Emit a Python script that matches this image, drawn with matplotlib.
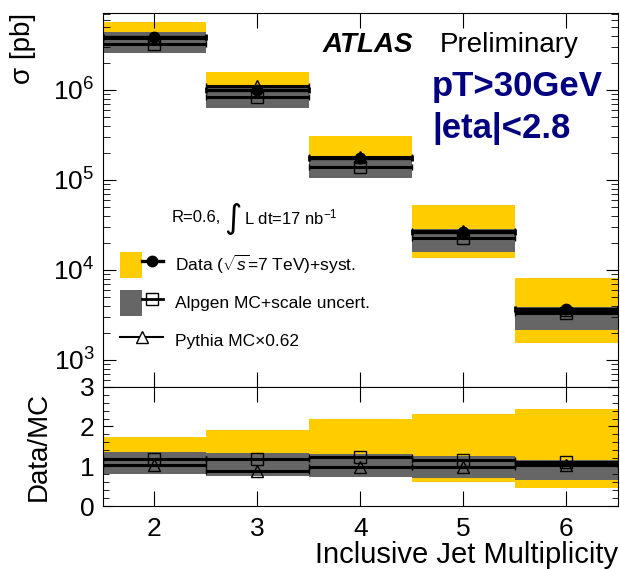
import matplotlib
matplotlib.use('Agg')
import matplotlib.pyplot as plt
import numpy as np
from matplotlib.patches import Patch
from matplotlib.lines import Line2D
from matplotlib.legend_handler import HandlerTuple
from matplotlib.ticker import MultipleLocator, NullFormatter, FixedLocator

plt.rcParams['font.family'] = ['Liberation Sans', 'DejaVu Sans']
plt.rcParams['mathtext.fontset'] = 'custom'
plt.rcParams['mathtext.rm'] = 'Liberation Sans'
plt.rcParams['mathtext.it'] = 'Liberation Sans:italic'
plt.rcParams['mathtext.bf'] = 'Liberation Sans:bold'

# inclusive jet multiplicity bins
njets = [2, 3, 4, 5, 6]

# data and systematic band [pb]
data = [3.88e6, 1.00e6, 1.75e5, 2.64e4, 3.69e3]
data_up = [5.65e6, 1.60e6, 3.10e5, 5.27e4, 8.10e3]
data_dn = [3.10e6, 7.90e5, 1.30e5, 1.35e4, 1.53e3]

# alpgen with scale uncertainty
alpgen = [3.25e6, 8.40e5, 1.41e5, 2.27e4, 3.33e3]
alpgen_up = [4.42e6, 1.12e6, 1.85e5, 2.86e4, 3.86e3]
alpgen_dn = [2.60e6, 6.30e5, 1.04e5, 1.59e4, 2.16e3]

# pythia x 0.62
pythia = [3.77e6, 1.12e6, 1.80e5, 2.72e4, 3.58e3]

amarillo = '#ffcc00'
gris = '#666666'

x = np.array(njets)
d = np.array(data)
alp = np.array(alpgen)
py = np.array(pythia)

fig = plt.figure(figsize=(6.2, 5.69), dpi=100)
ax = fig.add_axes([0.166, 0.3204, 0.8306, 0.6568])
rax = fig.add_axes([0.166, 0.1107, 0.8306, 0.2097], sharex=ax)

# panel de arriba
ax.bar(x, np.array(data_up) - np.array(data_dn), bottom=data_dn, width=1.0, color=amarillo, lw=0)
ax.bar(x, np.array(alpgen_up) - np.array(alpgen_dn), bottom=alpgen_dn, width=1.0, color=gris, lw=0)
ax.errorbar(x, py, xerr=0.5, fmt='^', ms=8, mfc='none', mec='black', mew=1.0,
            color='black', lw=2.2, capsize=2, capthick=2)
ax.errorbar(x, d, xerr=0.5, fmt='o', ms=7.5, mfc='black', mec='black',
            color='black', lw=2.4, capsize=2, capthick=2)
ax.errorbar(x, alp, xerr=0.5, fmt='s', ms=8, mfc='none', mec='black', mew=1.0,
            color='black', lw=2.2, capsize=2, capthick=2)

ax.set_yscale('log')
ax.set_ylim(505, 7.17e6)
ax.set_xlim(1.5, 6.5)
ax.xaxis.set_major_locator(FixedLocator(njets))
ax.tick_params(which='both', direction='in', top=True, right=True)
ax.tick_params(axis='x', which='major', length=11, labelbottom=False)
ax.tick_params(axis='y', which='major', length=9, labelsize=19, pad=6)
ax.tick_params(axis='y', which='minor', length=5)
ax.yaxis.set_minor_formatter(NullFormatter())
ax.set_ylabel('σ [pb]', loc='top', fontsize=20)
ax.yaxis.set_label_coords(-0.13, 1.0)

ax.text(0.427, 0.914, 'ATLAS', transform=ax.transAxes, fontsize=20,
        fontweight='bold', fontstyle='italic', va='center')
ax.text(0.654, 0.914, 'Preliminary', transform=ax.transAxes, fontsize=20, va='center')
ax.text(0.639, 0.802, 'pT>30GeV', transform=ax.transAxes, fontsize=25,
        fontweight='bold', color='#000080', va='center')
ax.text(0.639, 0.692, '|eta|<2.8', transform=ax.transAxes, fontsize=25,
        fontweight='bold', color='#000080', va='center')
# R=0.6, integral L dt
ax.text(0.134, 0.454, 'R=0.6,', transform=ax.transAxes, fontsize=12, va='center')
ax.text(0.253, 0.450, '∫', transform=ax.transAxes, fontsize=24, va='center', ha='center',
        family='DejaVu Sans')
ax.text(0.274, 0.454, r'L dt=17 nb$^{-1}$', transform=ax.transAxes, fontsize=12, va='center')

h_data = (Patch(facecolor=amarillo, lw=0),
          Line2D([], [], color='black', lw=2.4, marker='o', ms=7.5, mfc='black'))
h_alp = (Patch(facecolor=gris, lw=0),
         Line2D([], [], color='black', lw=2, marker='s', ms=8, mfc='none', mew=1.0))
h_py = Line2D([], [], color='black', lw=1.5, marker='^', ms=8, mfc='white', mew=1.0)
ax.legend([h_data, h_alp, h_py],
          [r'Data ($\sqrt{s}$=7 TeV)+syst.', 'Alpgen MC+scale uncert.', 'Pythia MC×0.62'],
          handler_map={tuple: HandlerTuple(ndivide=None, pad=0)},
          loc='upper left', bbox_to_anchor=(0.033, 0.36), frameon=False, fontsize=12.5,
          handlelength=2.5, handleheight=1.9, handletextpad=0.65, labelspacing=0.7,
          borderpad=0, borderaxespad=0, numpoints=1)

# panel de abajo (Data/MC)
rax.bar(x, (np.array(data_up) - np.array(data_dn)) / alp, bottom=np.array(data_dn) / alp,
        width=1.0, color=amarillo, lw=0)
rax.bar(x, (np.array(alpgen_up) - np.array(alpgen_dn)) / alp, bottom=np.array(alpgen_dn) / alp,
        width=1.0, color=gris, lw=0)
rax.errorbar(x, d / py, xerr=0.5, fmt='^', ms=8, mfc='none', mec='black', mew=1.0,
             color='black', lw=2.2, capsize=2, capthick=2)
rax.errorbar(x, d / alp, xerr=0.5, fmt='s', ms=8, mfc='none', mec='black', mew=1.0,
             color='black', lw=2.2, capsize=2, capthick=2)

rax.set_ylim(0, 3)
rax.set_xlim(1.5, 6.5)
rax.yaxis.set_major_locator(MultipleLocator(1))
rax.yaxis.set_minor_locator(MultipleLocator(0.2))
rax.tick_params(which='both', direction='in', top=True, right=True)
rax.tick_params(axis='x', which='major', length=11, labelsize=19, pad=8)
rax.tick_params(axis='y', which='major', length=7, labelsize=19, pad=6)
rax.tick_params(axis='y', which='minor', length=4)
rax.set_ylabel('Data/MC', fontsize=20)
rax.yaxis.set_label_coords(-0.10, 0.5)
rax.set_xlabel('Inclusive Jet Multiplicity', fontsize=21, loc='right')
rax.xaxis.set_label_coords(1.0, -0.29)
rax.xaxis.label.set_va('top')

fig.savefig('out.png', dpi=100)
